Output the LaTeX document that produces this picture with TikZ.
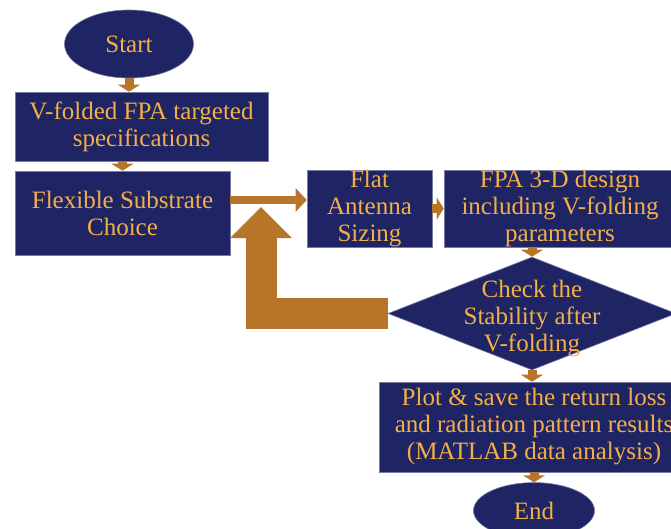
\documentclass[tikz,border=0pt]{standalone}
\usepackage{fontspec}
\setmainfont{Liberation Serif}
\usetikzlibrary{shapes.geometric,arrows.meta,positioning}
\definecolor{navy}{RGB}{30,36,100}
\definecolor{gold}{RGB}{244,176,72}
\definecolor{copper}{RGB}{183,117,42}

\begin{document}
\begin{tikzpicture}[x=1pt, y=1pt, font=\fontsize{25}{27}\selectfont,
    stepbox/.style={draw=navy!60!white, line width=0.6pt, rectangle, fill=navy, text=gold, align=center, inner sep=0pt},
    terminal/.style={draw=navy!60!white, line width=0.6pt, ellipse, fill=navy, text=gold, inner sep=0pt},
    decision/.style={draw=navy!60!white, line width=0.6pt, diamond, fill=navy, inner sep=0pt},
    flow/.style={draw=copper, line width=9pt, -{Triangle[length=7pt,width=22pt]}},
    mainflow/.style={draw=copper, line width=8pt, -{Triangle[length=11pt,width=23pt]}},
    feedback/.style={draw=copper, line width=31pt, -{Triangle[length=31pt,width=60pt]}}]
    \useasboundingbox (0,0) rectangle (671,-529);

    \node [terminal, minimum width=129pt, minimum height=68pt] (start) at (129,-44) {Start};
    \node [stepbox, minimum width=253pt, minimum height=69pt] (spec) at (141.5,-126.5) {V-folded FPA targeted\\specifications};
    \node [stepbox, minimum width=215pt, minimum height=84pt] (substrate) at (122.5,-213) {Flexible Substrate\\Choice};
    \node [stepbox, minimum width=125pt, minimum height=77pt] (flat) at (369.5,-208.5) {Flat\\Antenna\\Sizing};
    \node [stepbox, minimum width=232pt, minimum height=77pt] (design) at (560,-208.5) {FPA 3-D design\\including V-folding\\parameters};
    \node [decision, minimum width=288pt, minimum height=113pt,
        label={[text=gold, align=center, yshift=-5pt]center:Check the\\Stability after\\V-folding}] (check) at (532,-313.5) {};
    \node [stepbox, minimum width=310pt, minimum height=90pt] (plot) at (534,-427) {Plot \& save the return loss\\and radiation pattern results\\(MATLAB data analysis)};
    \node [terminal, minimum width=121pt, minimum height=56pt, below=10pt of plot] (end) {End};

    \coordinate (merge) at (261,-207);

    \draw [flow] (start.south) -- (start.south |- spec.north);
    \draw [flow] (substrate.north |- spec.south) -- (substrate.north);
    \draw [mainflow] ([yshift=13pt]substrate.east) -- ([yshift=13pt]substrate.east -| flat.west);
    \draw [flow] (flat) -- (design);
    \draw [flow] (check |- design.south) -- (check.north);
    \draw [flow] (check.south) -- (check.south |- plot.north);
    \draw [flow] (plot) -- (end);
    \draw [feedback] (check.west) -| (merge);
\end{tikzpicture}
\end{document}
